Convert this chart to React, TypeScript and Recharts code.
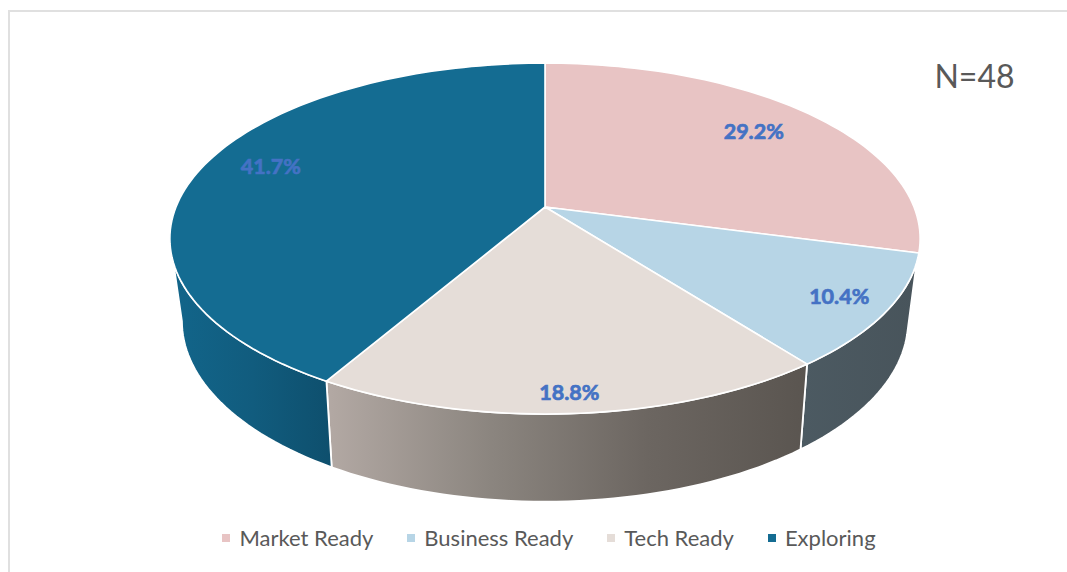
import React from "react";
import { PieChart, Pie, Cell, Legend } from "recharts";

const categories = ["Market Ready", "Business Ready", "Tech Ready", "Exploring"];
const counts = [14, 5, 9, 20];
const sampleSize = "N=48";

const topColors = ["#E8C4C4", "#B7D5E6", "#E5DDD8", "#146C92"];
const wallStops: string[][] = [
  ["#8a7070", "#8a7070"],
  ["#4C5A62", "#48545B"],
  ["#B3A9A4", "#8C8680", "#6C6661", "#5A5550"],
  ["#12658A", "#115C7E", "#0E4F6D"],
];
const labelRadius = [0.78, 0.875, 0.915, 0.814];
const labelTurn = [-0.5, 0, 0.3, 2.6];

const FONT = "Lato, 'Open Sans', sans-serif";
const CX = 545;
const CY = 207;
const R = 369;
const rad = (d: number) => (d * Math.PI) / 180;

// Perspective map of the pie's flat disc on to the picture, top face
function topPoint(cx: number, cy: number, R0: number, theta: number, r = 1) {
  const u = r * Math.sin(rad(theta));
  const v = -r * Math.cos(rad(theta));
  const d = 1 - 0.18 * v;
  return [cx + (R0 * u) / d, cy + (R0 * 0.46 * v) / d];
}
// Same map for the bottom rim of the disc
function bottomPoint(cx: number, cy: number, R0: number, theta: number) {
  const u = Math.sin(rad(theta));
  const v = -Math.cos(rad(theta));
  const d = 1 - 0.19 * v;
  return [cx + (R0 * 0.966 * u) / d, cy + R0 * 0.2165 + (R0 * 0.4715 * v) / d];
}
const sweep = (a: number, b: number) => {
  const n = Math.max(2, Math.ceil(Math.abs(b - a) / 1.5));
  return Array.from({ length: n + 1 }, (_, i) => a + ((b - a) * i) / n);
};
const toPath = (pts: number[][]) =>
  pts.map((p, i) => `${i ? "L" : "M"}${p[0].toFixed(2)},${p[1].toFixed(2)}`).join("") + "Z";

function Slice(props: any) {
  const { cx, cy, outerRadius, startAngle, endAngle, index, fill } = props;
  const a = 90 - startAngle;
  const b = 90 - endAngle;
  const top = [[cx, cy], ...sweep(a, b).map((t) => topPoint(cx, cy, outerRadius, t))];
  const topFrom = Math.max(a, 108);
  const topTo = Math.min(b, 252);
  const botFrom = Math.max(a, 101);
  const botTo = Math.min(b, 259);
  const hasWall = topTo > topFrom;
  const wall = hasWall
    ? [
        ...sweep(topFrom, topTo).map((t) => topPoint(cx, cy, outerRadius, t)),
        ...sweep(botTo, botFrom).map((t) => bottomPoint(cx, cy, outerRadius, t)),
      ]
    : [];
  const stops = wallStops[index];
  const id = `wall-${index}`;
  return (
    <g>
      {hasWall && (
        <>
          <defs>
            <linearGradient id={id} x1="0" x2="1" y1="0" y2="0">
              {stops.map((c, i) => (
                <stop key={i} offset={i / (stops.length - 1)} stopColor={c} />
              ))}
            </linearGradient>
          </defs>
          <path d={toPath(wall)} fill={`url(#${id})`} stroke="#FFFFFF" strokeWidth={1.8} />
        </>
      )}
      <path d={toPath(top)} fill={fill} stroke="#FFFFFF" strokeWidth={1.6} strokeLinejoin="round" />
    </g>
  );
}

function SliceLabel(props: any) {
  const { cx, cy, outerRadius, midAngle, percent, index } = props;
  const [x, y] = topPoint(cx, cy, outerRadius, 90 - midAngle + labelTurn[index], labelRadius[index]);
  return (
    <text
      x={x}
      y={y - 1}
      textAnchor="middle"
      dominantBaseline="central"
      fontFamily={FONT}
      fontWeight={700}
      fontSize={21.5}
      fill="#4472C4"
      stroke="#4472C4"
      strokeWidth={0.7}
    >
      {(percent * 100).toFixed(1)}%
    </text>
  );
}

function LegendRow({ payload }: any) {
  return (
    <div style={{ display: "flex", justifyContent: "center", alignItems: "center", gap: 34, fontFamily: FONT, fontSize: 22, color: "#595959", lineHeight: "26px" }}>
      {(payload || []).map((e: any) => (
        <div key={e.value} style={{ display: "flex", alignItems: "center" }}>
          <span style={{ width: 8, height: 8, background: e.color, marginRight: 9, display: "inline-block" }} />
          <span>{e.value}</span>
        </div>
      ))}
    </div>
  );
}

const rows = categories.map((name, i) => ({ name, value: counts[i] }));

export default function App() {
  return (
    <div style={{ position: "absolute", left: 0, top: 0, width: 1067, height: 572, overflow: "hidden", background: "#FFFFFF" }}>
      <div style={{ position: "absolute", left: 8, top: 10, width: 1067, height: 572, borderTop: "2px solid #E0E0E0", borderLeft: "2px solid #E0E0E0" }} />
      <div style={{ position: "absolute", left: 0, top: 0 }}>
        <PieChart width={1067} height={572} margin={{ top: 0, right: 0, bottom: 0, left: 0 }}>
          <Pie
            data={rows}
            dataKey="value"
            nameKey="name"
            cx={CX}
            cy={CY}
            innerRadius={0}
            outerRadius={R}
            startAngle={90}
            endAngle={-270}
            paddingAngle={0}
            isAnimationActive={false}
            shape={Slice}
            label={SliceLabel}
            labelLine={false}
            rootTabIndex={-1}
          >
            {rows.map((r, i) => (
              <Cell key={r.name} fill={topColors[i]} />
            ))}
          </Pie>
          <Legend
            content={LegendRow}
            itemSorter={null}
            wrapperStyle={{ position: "absolute", left: 0, top: 525, bottom: "auto", width: 1098 }}
          />
          <text x={974.5} y={88} textAnchor="middle" fontFamily={FONT} fontSize={32} fill="#595959">
            {sampleSize}
          </text>
        </PieChart>
      </div>
    </div>
  );
}
